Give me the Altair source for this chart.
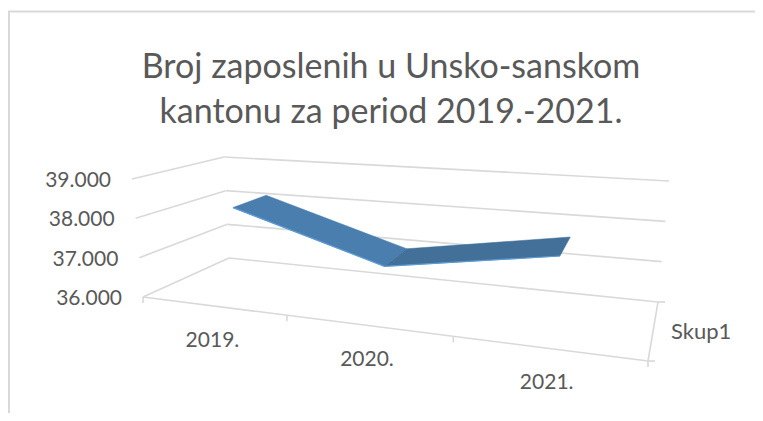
import altair as alt
import pandas as pd

years = ["2019.", "2020.", "2021."]
values = [38200, 37070, 37730]
y_ticks = [36000, 37000, 38000, 39000]
y_labels = ["36.000", "37.000", "38.000", "39.000"]
series_name = "Skup1"
title_lines = ["Broj zaposlenih u Unsko-sanskom", "kantonu za period 2019.-2021."]

GRID = "#d9d9d9"
TEXT = "#595959"
FONT = "Lato"
W, H = 747, 405
V0, V1 = 36000, 39000
# 3D frame of the Excel-style chart, in page pixels
FL, FR, BL, BR = (143, 297), (648, 361), (229, 258), (658, 302)
LFL, LFR, LBL, LBR = (-11, -118), (14, -138), (-5, -101), (11, -121)
PERSP = -0.203
D_FRONT, D_BACK = 0.33, 0.75


def lerp(a, b, t):
    return a + (b - a) * t


def project(u, d, v):
    w = (1 + PERSP) * u / (1 + PERSP * u)
    t = (v - V0) / (V1 - V0)
    out = []
    for i in (0, 1):
        floor = lerp(lerp(FL[i], FR[i], w), lerp(BL[i], BR[i], w), d)
        lift = lerp(lerp(LFL[i], LFR[i], w), lerp(LBL[i], LBR[i], w), d)
        out.append(floor + lift * t)
    return out


X = alt.X("x:Q", axis=None, scale=alt.Scale(domain=[8, 8 + W], range=[0, W]))
Y = alt.Y("y:Q", axis=None, scale=alt.Scale(domain=[8, 8 + H], range=[0, H]))

# frame and grid lines
segs = []


def add_seg(a, b):
    k = len(segs) // 2
    segs.append({"seg": k, "i": 0, "x": a[0], "y": a[1]})
    segs.append({"seg": k, "i": 1, "x": b[0], "y": b[1]})


for v in y_ticks:
    add_seg(project(0, 0, v), project(0, 1, v))
    add_seg(project(0, 1, v), project(1, 1, v))
add_seg(project(0, 0, V0), project(1, 0, V0))
add_seg(project(1, 0, V0), project(1, 1, V0))
grid = alt.Chart(pd.DataFrame(segs)).mark_line(color=GRID, strokeWidth=1.6).encode(
    x=X, y=Y, detail="seg:N", order="i:Q"
)

# small ticks
ticks = []


def add_tick(p, dx, dy):
    k = len(ticks) // 2
    ticks.append({"seg": k, "i": 0, "x": p[0], "y": p[1]})
    ticks.append({"seg": k, "i": 1, "x": p[0] + dx, "y": p[1] + dy})


for u in (0, 1 / 3, 2 / 3, 1):
    add_tick(project(u, 0, V0), 0, 6)
add_tick(project(1, 0, V0), 7, 0)
add_tick(project(1, 1, V0), 7, 0)
tick_marks = alt.Chart(pd.DataFrame(ticks)).mark_line(color=GRID, strokeWidth=1.6).encode(
    x=X, y=Y, detail="seg:N", order="i:Q"
)

# ribbon
centres = [1 / 6, 1 / 2, 5 / 6]


def ribbon(idx):
    a, b = idx, idx + 1
    corners = [
        project(centres[a], D_FRONT, values[a]),
        project(centres[a], D_BACK, values[a]),
        project(centres[b], D_BACK, values[b]),
        project(centres[b], D_FRONT, values[b]),
    ]
    return pd.DataFrame([{"i": i, "x": c[0], "y": c[1]} for i, c in enumerate(corners)])


ribbon_a = alt.Chart(ribbon(0)).mark_line(
    interpolate="linear-closed", fill="#4a7eaf", stroke="#4a7eaf", strokeWidth=0.5
).encode(x=X, y=Y, order="i:Q")
ribbon_b = alt.Chart(ribbon(1)).mark_line(
    interpolate="linear-closed", fill="#437099", stroke="#437099", strokeWidth=0.5
).encode(x=X, y=Y, order="i:Q")
edge_pts = [project(c, D_FRONT, v) for c, v in zip(centres, values)]
edge = alt.Chart(
    pd.DataFrame([{"i": i, "x": p[0], "y": p[1]} for i, p in enumerate(edge_pts)])
).mark_line(color="#5b9bd5", strokeWidth=1.2).encode(x=X, y=Y, order="i:Q")

# labels
y_lab = pd.DataFrame(
    [{"x": project(0, 0, v)[0], "y": project(0, 0, v)[1], "t": t} for v, t in zip(y_ticks, y_labels)]
)
y_text = alt.Chart(y_lab).mark_text(
    font=FONT, fontSize=21, color=TEXT, align="right", baseline="middle", dx=-21, dy=2
).encode(x=X, y=Y, text="t:N")

x_lab = pd.DataFrame(
    [{"x": project(c, 0, V0)[0], "y": project(c, 0, V0)[1], "t": t} for c, t in zip(centres, years)]
)
x_text = alt.Chart(x_lab).mark_text(
    font=FONT, fontSize=21, color=TEXT, align="center", baseline="middle", dy=35
).encode(x=X, y=Y, text="t:N")

s_pos = project(1, 0.5, V0)
s_text = alt.Chart(pd.DataFrame([{"x": s_pos[0], "y": s_pos[1], "t": series_name}])).mark_text(
    font=FONT, fontSize=22, color=TEXT, align="left", baseline="middle", dx=18
).encode(x=X, y=Y, text="t:N")

# outer border of the chart object
border_top = alt.Chart(pd.DataFrame({"a": [0]})).mark_rule(color=GRID, strokeWidth=2).encode(
    x=alt.value(0), x2=alt.value(W), y=alt.value(3.5)
)
border_left = alt.Chart(pd.DataFrame({"a": [0]})).mark_rule(color=GRID, strokeWidth=2).encode(
    x=alt.value(1), y=alt.value(3.5), y2=alt.value(H)
)

chart = alt.layer(
    border_top, border_left, grid, tick_marks, ribbon_a, ribbon_b, edge, y_text, x_text, s_text
).properties(
    width=W,
    height=H,
    autosize=alt.AutoSizeParams(type="none"),
    padding=0,
    background="white",
    title=alt.TitleParams(
        text=title_lines,
        font=FONT,
        fontSize=34,
        fontWeight="normal",
        color=TEXT,
        lineHeight=45,
        anchor="start",
        align="center",
        baseline="alphabetic",
        dx=384,
        dy=153,
    ),
).configure_view(stroke=None)

chart.save("out.html", embed_options={"renderer": "svg", "actions": False})
